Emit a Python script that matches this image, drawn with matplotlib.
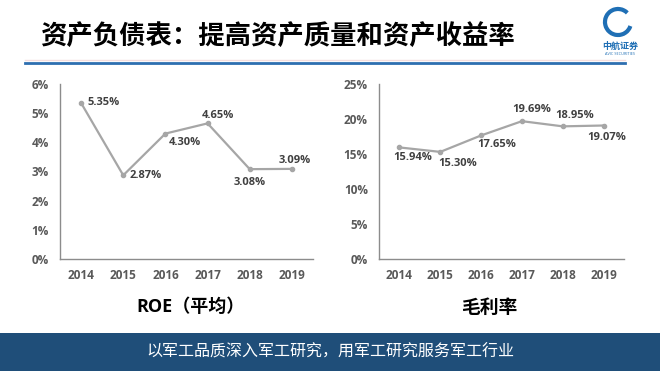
import matplotlib.pyplot as plt
from matplotlib.lines import Line2D
from matplotlib.patches import Rectangle, Arc

years = ["2014", "2015", "2016", "2017", "2018", "2019"]
roe = [5.35, 2.87, 4.30, 4.65, 3.08, 3.09]
gross_margin = [15.94, 15.30, 17.65, 19.69, 18.95, 19.07]

title = "资产负债表：提高资产质量和资产收益率"
roe_title = "ROE（平均）"
gm_title = "毛利率"
footer = "以军工品质深入军工研究，用军工研究服务军工行业"

# label offsets in pixels (dx, dy, ha)
roe_offsets = [(6, 0, "left"), (6, 0, "left"), (3, -9, "left"),
               (10, 8, "center"), (0, -13, "center"), (3, 8, "center")]
gm_offsets = [(13, -10, "center"), (17, -12, "center"), (16, -9, "center"),
              (10, 12, "center"), (12, 11, "center"), (3, -12, "center")]

cjk = ["Noto Sans CJK SC", "DejaVu Sans"]
plt.rcParams["font.family"] = ["Open Sans", "Noto Sans CJK SC", "DejaVu Sans"]

fig = plt.figure(figsize=(6.6, 3.71), dpi=100)
fig.patch.set_facecolor("white")

# title and rule
fig.text(0.061, 0.903, title, family=cjk, fontsize=19, fontweight="bold",
         color="black", ha="left", va="center")
fig.add_artist(Line2D([25 / 660, 625 / 660], [1 - 60 / 371, 1 - 60 / 371],
                      color="#f4dede", lw=1.0, transform=fig.transFigure))
fig.add_artist(Line2D([25 / 660, 625 / 660], [1 - 62.5 / 371, 1 - 62.5 / 371],
                      color="#2e6fb0", lw=2.0, transform=fig.transFigure))

# logo
fig.add_artist(Arc((618 / 660, 1 - 22 / 371), 26 / 660, 26 / 371, theta1=60,
                   theta2=330, color="#1f6fb5", lw=3, transform=fig.transFigure))
fig.text(620 / 660, 1 - 46 / 371, "中航证券", family=cjk, fontsize=6.5,
         fontweight="bold", color="#1f6fb5", ha="center", va="center")
fig.text(620 / 660, 1 - 54 / 371, "AVIC SECURITIES", fontsize=2.8,
         color="#1f6fb5", ha="center", va="center")


def draw(ax, values, ymax, step, offsets):
    x = range(len(years))
    ax.plot(x, values, color="#a6a6a6", lw=1.6, marker="o", markersize=3,
            markerfacecolor="#a6a6a6", markeredgecolor="#a6a6a6")
    for i, v in enumerate(values):
        dx, dy, ha = offsets[i]
        ax.annotate(f"{v:.2f}%", (i, v), xytext=(dx, dy),
                    textcoords="offset pixels", ha=ha, va="center",
                    fontsize=8, fontweight="bold", color="#404040")
    ax.set_xlim(-0.5, len(years) - 0.5)
    ax.set_ylim(0, ymax)
    ax.set_xticks(list(x))
    ax.set_xticklabels(years)
    yt = list(range(0, ymax + 1, step))
    ax.set_yticks(yt)
    ax.set_yticklabels([f"{t}%" for t in yt])
    for s in ["top", "right"]:
        ax.spines[s].set_visible(False)
    for s in ["left", "bottom"]:
        ax.spines[s].set_color("#8c8c8c")
        ax.spines[s].set_linewidth(1.0)
    ax.tick_params(length=0, labelsize=8.5, labelcolor="#595959")
    ax.tick_params(axis="y", pad=8)
    ax.tick_params(axis="x", pad=7)
    for lab in ax.get_xticklabels() + ax.get_yticklabels():
        lab.set_fontweight("bold")


ax1 = fig.add_axes([60 / 660, 1 - 259 / 371, 253 / 660, 175 / 371])
draw(ax1, roe, 6, 1, roe_offsets)
ax2 = fig.add_axes([379 / 660, 1 - 259 / 371, 245 / 660, 175 / 371])
draw(ax2, gross_margin, 25, 5, gm_offsets)

fig.text(190 / 660, 1 - 307 / 371, roe_title, fontsize=13, fontweight="bold",
         color="black", ha="center", va="center")
fig.text(489 / 660, 1 - 307 / 371, gm_title, family=cjk, fontsize=13.5,
         fontweight="bold", color="black", ha="center", va="center")

# footer band
fig.add_artist(Rectangle((0, 0), 1, 38 / 371, facecolor="#1f4e79",
                         edgecolor="none", transform=fig.transFigure))
fig.text(0.5, 1 - 352 / 371, footer, family=cjk, fontsize=11.5,
         color="white", ha="center", va="center")

fig.savefig("out.png", dpi=100)
